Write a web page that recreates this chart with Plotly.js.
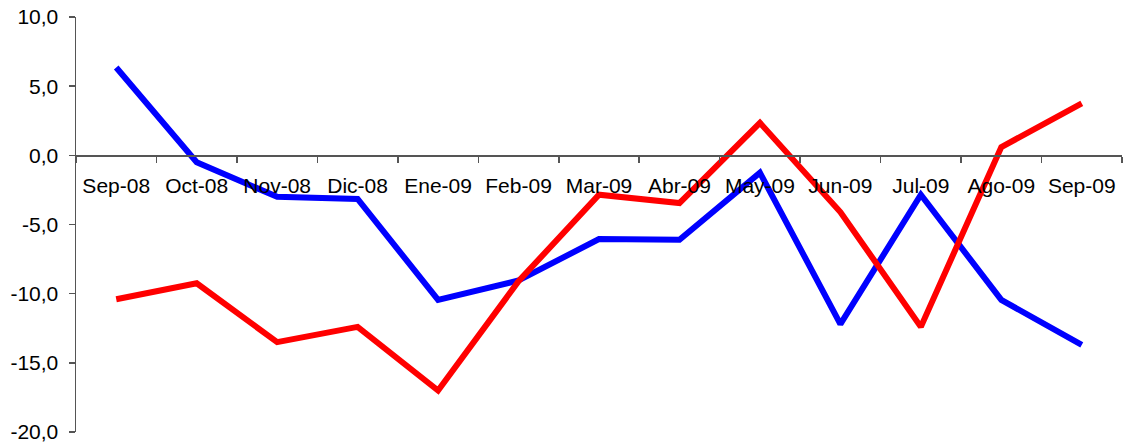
<!DOCTYPE html>
<html>
<head>
<meta charset="utf-8">
<script src="https://cdn.plot.ly/plotly-3.0.1.min.js"></script>
<style>html,body{margin:0;padding:0;background:#fff;}#chart{width:1125px;height:444px;}</style>
</head>
<body>
<div id="chart"></div>
<script>
const months = ["Sep-08","Oct-08","Nov-08","Dic-08","Ene-09","Feb-09","Mar-09","Abr-09","May-09","Jun-09","Jul-09","Ago-09","Sep-09"];
const blueSeries = [6.35,-0.5,-3.0,-3.15,-10.45,-9.05,-6.05,-6.1,-1.25,-12.2,-2.85,-10.45,-13.7];
const redSeries = [-10.4,-9.25,-13.5,-12.4,-17.0,-9.1,-2.85,-3.45,2.35,-4.1,-12.4,0.6,3.75];
const yTickVals = [-20,-15,-10,-5,0,5,10];
const yTickText = ["-20,0","-15,0","-10,0","-5,0","0,0","5,0","10,0"];

const traces = [
  {x: months, y: blueSeries, type: 'scatter', mode: 'lines', line: {color: '#0000FF', width: 6}, hoverinfo: 'none'},
  {x: months, y: redSeries, type: 'scatter', mode: 'lines', line: {color: '#FF0000', width: 6}, hoverinfo: 'none'}
];

const layout = {
  width: 1125, height: 444,
  margin: {l: 76, r: 3, t: 17, b: 12},
  paper_bgcolor: '#fff', plot_bgcolor: '#fff',
  showlegend: false,
  font: {family: 'Liberation Sans, Arial, sans-serif', size: 21, color: '#000'},
  xaxis: {
    type: 'category', range: [-0.5, 12.5],
    anchor: 'free', position: 2/3,
    showline: true, linecolor: '#555', linewidth: 1.5,
    ticks: 'outside', tickson: 'boundaries', ticklen: 6, tickcolor: '#555', tickwidth: 1.5,
    ticklabelstandoff: 11,
    showgrid: false, zeroline: false,
    tickfont: {size: 21, family: 'Liberation Sans, Arial, sans-serif'}
  },
  yaxis: {
    range: [-20, 10], tickvals: yTickVals, ticktext: yTickText,
    showline: true, linecolor: '#555', linewidth: 1.5,
    ticks: 'outside', ticklen: 6, tickcolor: '#555', tickwidth: 1.5,
    ticklabelstandoff: 6,
    showgrid: false, zeroline: false,
    tickfont: {size: 21, family: 'Liberation Sans, Arial, sans-serif'}
  }
};

Plotly.newPlot('chart', traces, layout, {staticPlot: true, displayModeBar: false});
</script>
</body>
</html>
